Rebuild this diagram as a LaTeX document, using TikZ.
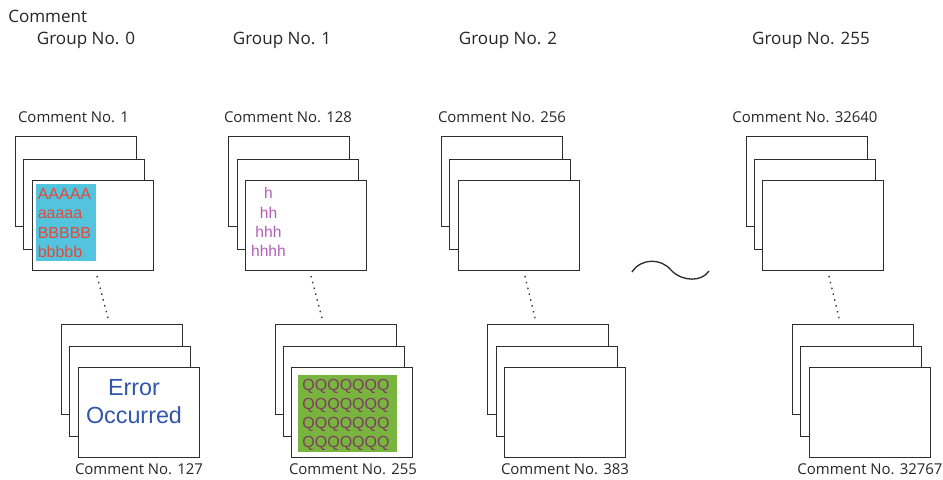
\documentclass[tikz,border=0pt]{standalone}
\usepackage{fontspec}
\setmainfont{Open Sans}
\newfontfamily\arialf{Liberation Sans}
\definecolor{edge}{RGB}{45,45,45}
\definecolor{skyfill}{RGB}{82,196,222}
\definecolor{redtxt}{RGB}{228,72,58}
\definecolor{purptxt}{RGB}{180,92,184}
\definecolor{grnfill}{RGB}{120,180,62}
\definecolor{qtxt}{RGB}{125,62,100}
\definecolor{errtxt}{RGB}{48,86,172}
\tikzset{
  card/.style={draw=edge, line width=1pt, fill=white, anchor=north west, inner sep=0pt,
    minimum width=90.6pt, minimum height=67.2pt},
  lbl/.style={font=\fontsize{11.2}{13}\selectfont, inner sep=0pt, text=black!85},
  ttl/.style={font=\fontsize{12.8}{15}\selectfont, inner sep=0pt, text=black!85},
  dotline/.style={draw=black!80, line width=1pt, dash pattern=on 1.1pt off 3.4pt},
}
\begin{document}
\begin{tikzpicture}[x=0.75pt,y=-0.75pt]
\useasboundingbox (0,0) rectangle (943,479);
% titles
\node[ttl, anchor=west] (tcomment) at (8,16) {Comment};
\node[ttl] (g0) at (86,40) {Group No. 0};
\node[ttl] (g1) at (282,40) {Group No. 1};
\node[ttl] (g2) at (508,40) {Group No. 2};
\node[ttl] (g255) at (811,40) {Group No. 255};
% top labels
\node[lbl] (c1) at (73.5,117) {Comment No. 1};
\node[lbl] (c128) at (288,117) {Comment No. 128};
\node[lbl] (c256) at (502,117) {Comment No. 256};
\node[lbl] (c32640) at (805,117) {Comment No. 32640};
% group 0 top
\node[card] (a0b) at (15,136) {};
\node[card] (a0m) at (23,159) {};
\node[card] (a0f) at (32,180) {};
\node[fill=skyfill, anchor=north west, inner sep=0pt, minimum width=45pt, minimum height=57.75pt] (a0bg) at (36,184) {};
\node[font=\arialf\fontsize{12}{14.5}\selectfont, text=redtxt, align=left, anchor=west, inner sep=0pt] (a0txt) at (37.5,223) {AAAAA\\aaaaa\\BBBBB\\bbbbb};
% group 1 top
\node[card] (a1b) at (228,136) {};
\node[card] (a1m) at (237,159) {};
\node[card] (a1f) at (245,180) {};
\node[font=\arialf\fontsize{11.7}{14.4}\selectfont, text=purptxt, align=center, inner sep=0pt] (a1txt) at (268.5,222) {h\\hh\\hhh\\hhhh};
% group 2 top
\node[card] (a2b) at (441,136) {};
\node[card] (a2m) at (449,159) {};
\node[card] (a2f) at (458,180) {};
% group 255 top
\node[card] (a3b) at (746,136) {};
\node[card] (a3m) at (754,159) {};
\node[card] (a3f) at (762,180) {};
% bottom stacks
\node[card] (b0b) at (61,324) {};
\node[card] (b0m) at (69,346) {};
\node[card] (b0f) at (78,367) {};
\node[font=\arialf\fontsize{17.5}{21.5}\selectfont, text=errtxt, align=center, inner sep=0pt] (b0txt) at (134,401.5) {Error\\Occurred};
\node[card] (b1b) at (275,324) {};
\node[card] (b1m) at (283,346) {};
\node[card] (b1f) at (291,367) {};
\node[fill=grnfill, anchor=north west, inner sep=0pt, minimum width=74.25pt, minimum height=57.75pt] (b1bg) at (298,375) {};
\node[font=\arialf\fontsize{12}{14.25}\selectfont, text=qtxt, align=center, inner sep=0pt] (b1txt) at (346,414.5) {QQQQQQQ\\QQQQQQQ\\QQQQQQQ\\QQQQQQQ};
\node[card] (b2b) at (487,324) {};
\node[card] (b2m) at (496,346) {};
\node[card] (b2f) at (504,367) {};
\node[card] (b3b) at (792,324) {};
\node[card] (b3m) at (800,346) {};
\node[card] (b3f) at (809,367) {};
% bottom labels
\node[lbl] (c127) at (139,469) {Comment No. 127};
\node[lbl] (c255) at (353,469) {Comment No. 255};
\node[lbl] (c383) at (565,469) {Comment No. 383};
\node[lbl] (c32767) at (870,469) {Comment No. 32767};
% dotted connectors
\coordinate (d0s) at (97,276); \coordinate (d0e) at (108,318);
\coordinate (d1s) at (311,276); \coordinate (d1e) at (322,318);
\coordinate (d2s) at (525,276); \coordinate (d2e) at (535,318);
\coordinate (d3s) at (829,276); \coordinate (d3e) at (839,318);
\draw[dotline] (d0s) -- (d0e);
\draw[dotline] (d1s) -- (d1e);
\draw[dotline] (d2s) -- (d2e);
\draw[dotline] (d3s) -- (d3e);
% wave
\coordinate (w0) at (632,272);
\coordinate (w1) at (671,270);
\coordinate (w2) at (709,271);
\draw[edge, line width=1pt] (w0) .. controls (641,258) and (661,258) .. (w1) .. controls (682,282) and (702,282) .. (w2);
\end{tikzpicture}
\end{document}
